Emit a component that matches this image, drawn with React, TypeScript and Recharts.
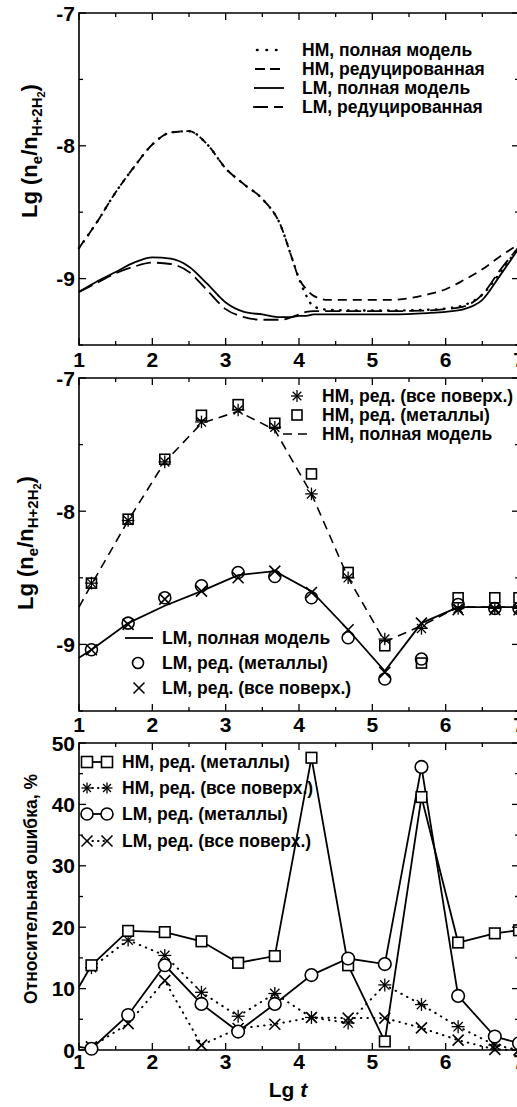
import React from "react";
import { ComposedChart, Line, XAxis, YAxis, ReferenceArea, Legend } from "recharts";

const FONT = "'Liberation Sans', Arial, Helvetica, sans-serif";
const W = 530;
const H = 1107;
const PLOT_RIGHT = 519;
const LEG = 17.5;

// ---- panel 1: smooth curves ----
const T1 = [1, 1.25, 1.5, 1.75, 2, 2.25, 2.5, 2.75, 3, 3.25, 3.5, 3.75, 3.9, 4, 4.1, 4.2, 4.4, 4.75, 5.25, 5.75, 6, 6.25, 6.5, 6.75, 7];
const HM_FULL_1 = [-8.77, -8.57, -8.35, -8.16, -7.99, -7.9, -7.89, -7.99, -8.17, -8.29, -8.4, -8.6, -8.84, -9.0, -9.13, -9.21, -9.235, -9.24, -9.24, -9.235, -9.225, -9.2, -9.12, -8.95, -8.76];
const HM_RED_1 = [-8.77, -8.57, -8.35, -8.16, -7.99, -7.9, -7.89, -7.99, -8.17, -8.29, -8.4, -8.6, -8.84, -9.0, -9.08, -9.13, -9.16, -9.16, -9.16, -9.12, -9.08, -9.01, -8.93, -8.83, -8.74];
const LM_FULL_1 = [-9.1, -9.02, -8.95, -8.88, -8.84, -8.85, -8.91, -9.04, -9.18, -9.25, -9.27, -9.29, -9.29, -9.28, -9.28, -9.27, -9.27, -9.27, -9.27, -9.26, -9.25, -9.23, -9.16, -8.97, -8.77];
const LM_RED_1 = [-9.1, -9.03, -8.96, -8.91, -8.88, -8.89, -8.95, -9.09, -9.23, -9.29, -9.31, -9.31, -9.29, -9.27, -9.25, -9.245, -9.245, -9.245, -9.245, -9.24, -9.23, -9.21, -9.12, -8.93, -8.76];

// ---- panel 2: computed points ----
const T2 = [1.17, 1.67, 2.17, 2.67, 3.17, 3.67, 4.17, 4.67, 5.17, 5.67, 6.17, 6.67, 7];
const T2_LINE = [1, 1.17, 1.67, 2.17, 2.67, 3.17, 3.67, 4.17, 4.67, 5.17, 5.67, 6.17, 6.67, 7];
const HM_FULL_2 = [-8.72, -8.55, -8.07, -7.63, -7.34, -7.25, -7.39, -7.87, -8.5, -8.98, -8.86, -8.72, -8.72, -8.72];
const LM_FULL_2 = [-9.1, -9.04, -8.84, -8.71, -8.6, -8.48, -8.45, -8.6, -8.89, -9.2, -8.84, -8.72, -8.72, -8.72];
const HM_ALL_2 = [-8.54, -8.07, -7.63, -7.33, -7.24, -7.37, -7.87, -8.5, -8.96, -8.88, -8.73, -8.73, -8.73];
const HM_MET_2 = [-8.54, -8.06, -7.61, -7.28, -7.2, -7.34, -7.72, -8.46, -9.01, -9.14, -8.65, -8.65, -8.65];
const LM_MET_2 = [-9.04, -8.84, -8.65, -8.56, -8.46, -8.49, -8.65, -8.95, -9.26, -9.11, -8.7, -8.73, -8.73];
const LM_ALL_2 = [-9.04, -8.85, -8.66, -8.6, -8.5, -8.45, -8.61, -8.89, -9.21, -8.84, -8.74, -8.74, -8.74];

// ---- panel 3: relative error, % ----
const HM_MET_3 = [10.3, 13.8, 19.4, 19.2, 17.7, 14.2, 15.3, 47.6, 13.8, 1.4, 41.2, 17.5, 19.0, 19.5];
const LM_MET_3 = [0.5, 0.2, 5.7, 13.8, 7.5, 3.0, 7.5, 12.2, 14.9, 14.0, 46.1, 8.8, 2.2, 1.1];
const HM_ALL_3 = [13.4, 17.9, 15.4, 9.4, 5.5, 9.2, 5.3, 4.4, 10.6, 7.4, 3.8, 0.8, 0];
const LM_ALL_3 = [0.5, 4.3, 11.3, 0.8, 3.5, 4.2, 5.3, 5.2, 5.2, 3.6, 1.6, 0.1, 0];

const X_TICKS = [1, 1.5, 2, 2.5, 3, 3.5, 4, 4.5, 5, 5.5, 6, 6.5, 7];
const Y_TICKS_N = [-9.5, -9, -8.5, -8, -7.5, -7];
const Y_TICKS_E = [0, 5, 10, 15, 20, 25, 30, 35, 40, 45, 50];

const pts = (xs: number[], ys: number[]) => xs.map((x, i) => ({ x, y: ys[i] }));

type Kind = "square" | "circle" | "star" | "cross";

function marker(kind: Kind, cx: number, cy: number, s: number, fill: string) {
  if (kind === "square")
    return <rect x={cx - s} y={cy - s} width={2 * s} height={2 * s} fill={fill} stroke="#000" strokeWidth={1.6} />;
  if (kind === "circle") return <circle cx={cx} cy={cy} r={s} fill={fill} stroke="#000" strokeWidth={1.6} />;
  if (kind === "star") {
    const d = s * 0.72;
    return (
      <g stroke="#000" strokeWidth={1.3}>
        <line x1={cx - s} y1={cy} x2={cx + s} y2={cy} />
        <line x1={cx} y1={cy - s} x2={cx} y2={cy + s} />
        <line x1={cx - d} y1={cy - d} x2={cx + d} y2={cy + d} />
        <line x1={cx - d} y1={cy + d} x2={cx + d} y2={cy - d} />
      </g>
    );
  }
  return (
    <g stroke="#000" strokeWidth={1.6}>
      <line x1={cx - s} y1={cy - s} x2={cx + s} y2={cy + s} />
      <line x1={cx - s} y1={cy + s} x2={cx + s} y2={cy - s} />
    </g>
  );
}

const dotOf = (kind: Kind, s: number, fill = "none", skipFirst = false) => (p: any) => {
  const { cx, cy, index } = p;
  if (cx == null || cy == null || (skipFirst && index === 0)) return <g key={`d${index}`} />;
  return <g key={`d${index}`}>{marker(kind, cx, cy, s, fill)}</g>;
};

const textStyle = { fontFamily: FONT, fontWeight: 700, fill: "#000" } as const;

// inward ticks on bottom + top, labels on whole numbers
const xTick = (plotTop: number, labelDy: number) => (p: any) => {
  const { x, y, payload } = p;
  const v = payload.value as number;
  const major = Math.abs(v - Math.round(v)) < 1e-6;
  const len = major ? 7 : 4;
  return (
    <g>
      <line x1={x} y1={y} x2={x} y2={y - len} stroke="#000" strokeWidth={1.3} />
      <line x1={x} y1={plotTop} x2={x} y2={plotTop + len} stroke="#000" strokeWidth={1.3} />
      {major && (
        <text x={x} y={y + labelDy} textAnchor="middle" fontSize={21} {...textStyle}>
          {v}
        </text>
      )}
    </g>
  );
};

const yTick = (isMajor: (v: number) => boolean) => (p: any) => {
  const { x, y, payload } = p;
  const v = payload.value as number;
  const major = isMajor(v);
  const len = major ? 7 : 4;
  return (
    <g>
      <line x1={x} y1={y} x2={x + len} y2={y} stroke="#000" strokeWidth={1.3} />
      <line x1={PLOT_RIGHT} y1={y} x2={PLOT_RIGHT - len} y2={y} stroke="#000" strokeWidth={1.3} />
      {major && (
        <text x={x - 4} y={y} textAnchor="end" dominantBaseline="central" fontSize={21} {...textStyle}>
          {v}
        </text>
      )}
    </g>
  );
};

const intMajor = (v: number) => Math.abs(v - Math.round(v)) < 1e-6;
const tenMajor = (v: number) => v % 10 === 0;

function NeTitle({ x, cy }: { x: number; cy: number }) {
  return (
    <text x={x} y={cy} transform={`rotate(-90 ${x} ${cy})`} textAnchor="middle" fontSize={22} {...textStyle}>
      <tspan>Lg (n</tspan>
      <tspan fontSize={15} dy={5}>e</tspan>
      <tspan dy={-5}>/n</tspan>
      <tspan fontSize={15} dy={5}>H+2H</tspan>
      <tspan fontSize={11} dy={3}>2</tspan>
      <tspan dy={-8}>)</tspan>
    </text>
  );
}

// legend helpers (page coordinates, charts span the whole page)
function LegendText({ x, y, children }: { x: number; y: number; children: string }) {
  return (
    <text x={x} y={y} dominantBaseline="central" fontSize={LEG} {...textStyle}>
      {children}
    </text>
  );
}

const overlay = { position: "absolute", left: 0, top: 0, overflow: "visible" } as const;
const legendWrap = { left: 0, top: 0, width: W, height: 0 };

function Legend1() {
  const rows = [
    { y: 50, dash: "0.5 9", cap: "round" as const, w: 2.6, text: "HM, полная модель", x1: 257, x2: 280 },
    { y: 69, dash: "10 5", cap: "butt" as const, w: 1.8, text: "HM, редуцированная", x1: 255, x2: 280 },
    { y: 88, dash: "", cap: "butt" as const, w: 1.8, text: "LM, полная модель", x1: 254, x2: 284 },
    { y: 107, dash: "15 6", cap: "butt" as const, w: 1.8, text: "LM, редуцированная", x1: 253, x2: 283 },
  ];
  return (
    <svg width={W} height={H} style={overlay}>
      {rows.map((r) => (
        <g key={r.y}>
          <line x1={r.x1} y1={r.y} x2={r.x2} y2={r.y} stroke="#000" strokeWidth={r.w} strokeDasharray={r.dash} strokeLinecap={r.cap} />
          <LegendText x={302} y={r.y}>{r.text}</LegendText>
        </g>
      ))}
    </svg>
  );
}

function Legend2() {
  return (
    <svg width={W} height={H} style={overlay}>
      {marker("star", 297, 396, 6, "none")}
      <LegendText x={322} y={396}>HM, ред. (все поверх.)</LegendText>
      {marker("square", 297, 415, 5, "none")}
      <LegendText x={322} y={415}>HM, ред. (металлы)</LegendText>
      <line x1={283} y1={434} x2={312} y2={434} stroke="#000" strokeWidth={1.6} strokeDasharray="9 6" />
      <LegendText x={322} y={434}>HM, полная модель</LegendText>

      <line x1={125} y1={638} x2={153} y2={638} stroke="#000" strokeWidth={1.8} />
      <LegendText x={162} y={638}>LM, полная модель</LegendText>
      {marker("circle", 138, 663, 5.5, "none")}
      <LegendText x={162} y={663}>LM, ред. (металлы)</LegendText>
      {marker("cross", 139, 688, 5.5, "none")}
      <LegendText x={162} y={688}>LM, ред. (все поверх.)</LegendText>
    </svg>
  );
}

function Legend3() {
  const rows: { y: number; kind: Kind; dotted: boolean; text: string }[] = [
    { y: 762, kind: "square", dotted: false, text: "HM, ред. (металлы)" },
    { y: 788, kind: "star", dotted: true, text: "HM, ред. (все поверх.)" },
    { y: 814, kind: "circle", dotted: false, text: "LM, ред. (металлы)" },
    { y: 841, kind: "cross", dotted: true, text: "LM, ред. (все поверх.)" },
  ];
  return (
    <svg width={W} height={H} style={overlay}>
      {rows.map((r) => (
        <g key={r.y}>
          <line x1={87} y1={r.y} x2={107} y2={r.y} stroke="#000" strokeWidth={r.dotted ? 2 : 1.8}
            strokeDasharray={r.dotted ? "0.5 5" : ""} strokeLinecap={r.dotted ? "round" : "butt"} />
          {marker(r.kind, 87, r.y, r.kind === "circle" ? 6 : 5.5, "#fff")}
          {marker(r.kind, 107, r.y, r.kind === "circle" ? 6 : 5.5, "#fff")}
          <LegendText x={122} y={r.y}>{r.text}</LegendText>
        </g>
      ))}
    </svg>
  );
}

function Panel1() {
  const top = 13;
  const bottom = 345;
  return (
    <ComposedChart width={W} height={H} margin={{ top, right: W - PLOT_RIGHT, bottom: H - bottom - 30, left: 0 }}>
      <XAxis type="number" dataKey="x" domain={[1, 7]} ticks={X_TICKS} interval={0} height={30}
        tickSize={0} tickMargin={0} axisLine={false} tickLine={false} tick={xTick(top, 22)} />
      <YAxis type="number" domain={[-9.5, -7]} ticks={Y_TICKS_N} interval={0} width={79}
        tickSize={0} tickMargin={0} axisLine={false} tickLine={false} tick={yTick(intMajor)}
        label={() => <NeTitle x={37} cy={151} />} />
      <ReferenceArea x1={1} x2={7} y1={-9.5} y2={-7} fill="none" stroke="#000" strokeWidth={1.6} />
      <Line data={pts(T1, LM_FULL_1)} dataKey="y" type="monotone" stroke="#000" strokeWidth={1.8} dot={false} isAnimationActive={false} />
      <Line data={pts(T1, LM_RED_1)} dataKey="y" type="monotone" stroke="#000" strokeWidth={1.8} strokeDasharray="15 6" dot={false} isAnimationActive={false} />
      <Line data={pts(T1, HM_RED_1)} dataKey="y" type="monotone" stroke="#000" strokeWidth={1.8} strokeDasharray="9 6" dot={false} isAnimationActive={false} />
      <Line data={pts(T1, HM_FULL_1)} dataKey="y" type="monotone" stroke="#000" strokeWidth={2.4} strokeDasharray="0.5 7.5" strokeLinecap="round" dot={false} isAnimationActive={false} />
      <Legend content={() => <Legend1 />} layout="horizontal" verticalAlign="middle" align="center" wrapperStyle={legendWrap} />
    </ComposedChart>
  );
}

function Panel2() {
  const top = 378;
  const bottom = 711;
  return (
    <ComposedChart width={W} height={H} margin={{ top, right: W - PLOT_RIGHT, bottom: H - bottom - 30, left: 0 }}>
      <XAxis type="number" dataKey="x" domain={[1, 7]} ticks={X_TICKS} interval={0} height={30}
        tickSize={0} tickMargin={0} axisLine={false} tickLine={false} tick={xTick(top, 21)} />
      <YAxis type="number" domain={[-9.5, -7]} ticks={Y_TICKS_N} interval={0} width={79}
        tickSize={0} tickMargin={0} axisLine={false} tickLine={false} tick={yTick(intMajor)}
        label={() => <NeTitle x={33} cy={543} />} />
      <ReferenceArea x1={1} x2={7} y1={-9.5} y2={-7} fill="none" stroke="#000" strokeWidth={1.6} />
      <Line data={pts(T2_LINE, HM_FULL_2)} dataKey="y" type="linear" stroke="#000" strokeWidth={1.6} strokeDasharray="9 6" dot={false} isAnimationActive={false} />
      <Line data={pts(T2_LINE, LM_FULL_2)} dataKey="y" type="linear" stroke="#000" strokeWidth={1.8} dot={false} isAnimationActive={false} />
      <Line data={pts(T2, HM_MET_2)} dataKey="y" stroke="none" dot={dotOf("square", 5)} isAnimationActive={false} />
      <Line data={pts(T2, HM_ALL_2)} dataKey="y" stroke="none" dot={dotOf("star", 6.3)} isAnimationActive={false} />
      <Line data={pts(T2, LM_MET_2)} dataKey="y" stroke="none" dot={dotOf("circle", 6)} isAnimationActive={false} />
      <Line data={pts(T2, LM_ALL_2)} dataKey="y" stroke="none" dot={dotOf("cross", 5.5)} isAnimationActive={false} />
      <Legend content={() => <Legend2 />} layout="horizontal" verticalAlign="middle" align="center" wrapperStyle={legendWrap} />
    </ComposedChart>
  );
}

function Panel3() {
  const top = 743;
  const bottom = 1050;
  return (
    <ComposedChart width={W} height={H} margin={{ top, right: W - PLOT_RIGHT, bottom: H - bottom - 30, left: 0 }}>
      <XAxis type="number" dataKey="x" domain={[1, 7]} ticks={X_TICKS} interval={0} height={30}
        tickSize={0} tickMargin={0} axisLine={false} tickLine={false} tick={xTick(top, 19)}
        label={() => (
          <text x={288} y={1097} textAnchor="middle" fontSize={21} {...textStyle}>
            Lg <tspan fontStyle="italic">t</tspan>
          </text>
        )} />
      <YAxis type="number" domain={[0, 50]} ticks={Y_TICKS_E} interval={0} width={79}
        tickSize={0} tickMargin={0} axisLine={false} tickLine={false} tick={yTick(tenMajor)}
        label={() => (
          <text x={37} y={889} transform="rotate(-90 37 889)" textAnchor="middle" fontSize={17.5} {...textStyle}>
            Относительная ошибка, %
          </text>
        )} />
      <ReferenceArea x1={1} x2={7} y1={0} y2={50} fill="none" stroke="#000" strokeWidth={1.6} />
      <Line data={pts(T2, HM_ALL_3)} dataKey="y" type="linear" stroke="#000" strokeWidth={2} strokeDasharray="0.5 6" strokeLinecap="round"
        dot={dotOf("star", 6.5)} isAnimationActive={false} />
      <Line data={pts(T2, LM_ALL_3)} dataKey="y" type="linear" stroke="#000" strokeWidth={2} strokeDasharray="0.5 6" strokeLinecap="round"
        dot={dotOf("cross", 5.5)} isAnimationActive={false} />
      <Line data={pts(T2_LINE, HM_MET_3)} dataKey="y" type="linear" stroke="#000" strokeWidth={1.8}
        dot={dotOf("square", 5.3, "#fff", true)} isAnimationActive={false} />
      <Line data={pts(T2_LINE, LM_MET_3)} dataKey="y" type="linear" stroke="#000" strokeWidth={1.8}
        dot={dotOf("circle", 6.3, "#fff", true)} isAnimationActive={false} />
      <Legend content={() => <Legend3 />} layout="horizontal" verticalAlign="middle" align="center" wrapperStyle={legendWrap} />
    </ComposedChart>
  );
}

export default function App() {
  return (
    <div style={{ position: "absolute", left: 0, top: 0, width: 517, height: H, overflow: "hidden", background: "#fff" }}>
      <div style={{ position: "absolute", left: 0, top: 0 }}>
        <Panel1 />
      </div>
      <div style={{ position: "absolute", left: 0, top: 0 }}>
        <Panel2 />
      </div>
      <div style={{ position: "absolute", left: 0, top: 0 }}>
        <Panel3 />
      </div>
    </div>
  );
}
